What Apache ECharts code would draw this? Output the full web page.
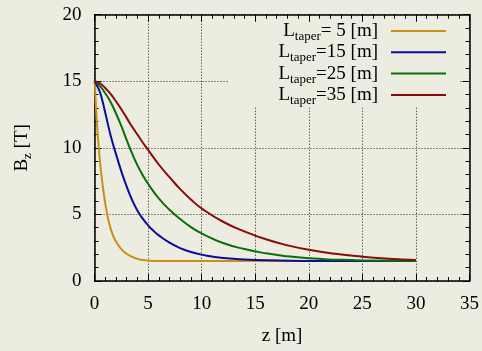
<!DOCTYPE html>
<html>
<head>
<meta charset="utf-8">
<script src="https://cdn.jsdelivr.net/npm/echarts@6/dist/echarts.min.js"></script>
<style>
html,body{margin:0;padding:0;background:#ecede0;}
#c{width:482px;height:351px;}
</style>
</head>
<body>
<div id="c"></div>
<script>
// ---- data ----
const seriesNames = ['L_taper= 5 [m]', 'L_taper=15 [m]', 'L_taper=25 [m]', 'L_taper=35 [m]'];
const legendLabels = ['= 5 [m]', '=15 [m]', '=25 [m]', '=35 [m]'];

const z5  = [0, 0.05, 0.1, 0.2, 0.3, 0.4, 0.5, 0.6, 0.8, 1.0, 1.25, 1.5, 1.75, 2.0, 2.5, 3.0, 3.5, 4.0, 4.5, 5.0, 6, 10, 20, 30];
const b5  = [15, 14.6, 13.7, 12.2, 11.0, 10.0, 9.1, 8.3, 6.95, 5.85, 4.75, 3.95, 3.38, 2.97, 2.4, 2.05, 1.82, 1.66, 1.57, 1.53, 1.5, 1.5, 1.5, 1.5];

const z15 = [0, 0.25, 0.5, 0.75, 1.0, 1.5, 2.0, 2.5, 3.0, 3.5, 4.0, 4.5, 5.0, 5.5, 6.0, 7.0, 8.0, 9.0, 10, 12, 15, 20, 30];
const b15 = [15, 14.65, 14.2, 13.5, 12.65, 10.95, 9.55, 8.25, 7.1, 6.1, 5.3, 4.68, 4.18, 3.77, 3.43, 2.88, 2.47, 2.18, 1.98, 1.73, 1.57, 1.51, 1.5];

const z25 = [0, 0.5, 1.0, 1.5, 2.0, 2.5, 3.0, 3.5, 4.0, 4.5, 5.0, 6.0, 7.0, 8.0, 9.0, 10, 12, 14, 16, 18, 20, 22.5, 25, 30];
const b25 = [15, 14.65, 14.1, 13.45, 12.6, 11.65, 10.6, 9.6, 8.7, 7.95, 7.3, 6.2, 5.35, 4.65, 4.05, 3.57, 2.85, 2.4, 2.08, 1.85, 1.7, 1.6, 1.54, 1.5];

const z35 = [0, 0.5, 1.0, 1.5, 2.0, 2.5, 3.0, 3.5, 4.0, 4.5, 5.0, 6.0, 7.0, 8.0, 9.0, 10, 12, 14, 16, 18, 20, 22.5, 25, 27.5, 30];
const b35 = [15, 14.85, 14.5, 14.05, 13.5, 12.9, 12.25, 11.6, 11.0, 10.4, 9.85, 8.75, 7.8, 6.9, 6.12, 5.45, 4.45, 3.72, 3.13, 2.68, 2.34, 2.04, 1.83, 1.67, 1.57];

const xTicks = [0, 5, 10, 15, 20, 25, 30, 35];
const yTicks = [0, 5, 10, 15, 20];
// ---------------------------------------

const colors = ['#c8901a', '#0c0c9c', '#0a6e0a', '#8b0a0a'];
const zs = [z5, z15, z25, z35];
const bs = [b5, b15, b25, b35];

const FONT = '"Liberation Serif", "Times New Roman", serif';
const BG = '#ecede0';

function pairs(z, b) { return z.map((v, i) => [v, b[i]]); }

const series = seriesNames.map((name, i) => ({
  name: name,
  type: 'line',
  data: pairs(zs[i], bs[i]),
  showSymbol: false,
  smooth: 0.5,
  lineStyle: { color: colors[i], width: 2 },
  itemStyle: { color: colors[i] },
  xAxisIndex: 0,
  yAxisIndex: 0,
  z: 3
}));

const axisCommon = {
  type: 'value',
  axisLine: { show: true, onZero: false, lineStyle: { color: '#000', width: 1.5 } },
  axisTick: { show: true, inside: true, length: 7, lineStyle: { color: '#000', width: 1 } },
  minorTick: { show: true, splitNumber: 5, length: 4, lineStyle: { color: '#000', width: 1 } },
  axisLabel: { color: '#000', fontFamily: FONT, fontSize: 19 }
};

const option = {
  backgroundColor: BG,
  animation: false,
  grid: { left: 94.5, right: 11, top: 14.7, bottom: 68.5, containLabel: false },
  xAxis: [
    Object.assign({}, axisCommon, {
      min: xTicks[0], max: xTicks[xTicks.length - 1], interval: 5, position: 'bottom',
      axisLabel: Object.assign({}, axisCommon.axisLabel, { margin: 14 }),
      splitLine: { show: true, lineStyle: { color: '#222', width: 1, type: [1, 2] } },
      name: 'z [m]', nameLocation: 'middle', nameGap: 46,
      nameTextStyle: { color: '#000', fontFamily: FONT, fontSize: 19 },
      z: 0
    }),
    Object.assign({}, axisCommon, {
      min: xTicks[0], max: xTicks[xTicks.length - 1], interval: 5, position: 'top',
      axisLabel: { show: false }, splitLine: { show: false }, z: 10
    })
  ],
  yAxis: [
    Object.assign({}, axisCommon, {
      min: yTicks[0], max: yTicks[yTicks.length - 1], interval: 5, position: 'left',
      axisLabel: Object.assign({}, axisCommon.axisLabel, { margin: 13 }),
      splitLine: { show: true, lineStyle: { color: '#222', width: 1, type: [1, 2] } },
      name: '{a|B}{b|z}{a| [T]}', nameLocation: 'middle', nameGap: 61, nameRotate: 90,
      nameTextStyle: {
        color: '#000', fontFamily: FONT, fontSize: 19,
        rich: {
          a: { fontFamily: FONT, fontSize: 19, lineHeight: 22, color: '#000' },
          b: { fontFamily: FONT, fontSize: 13, lineHeight: 22, padding: [11, 0, 0, 0], color: '#000' }
        }
      },
      z: 0
    }),
    Object.assign({}, axisCommon, {
      min: yTicks[0], max: yTicks[yTicks.length - 1], interval: 5, position: 'right',
      axisLabel: { show: false }, splitLine: { show: false }, z: 10
    })
  ],
  legend: {
    data: seriesNames.map(n => ({ name: n, icon: 'rect' })),
    orient: 'vertical',
    align: 'right',
    right: 22,
    top: 16,
    padding: [3, 14, 0, 50],
    itemGap: -2.7,
    itemWidth: 55,
    itemHeight: 2,
    backgroundColor: BG,
    selectedMode: false,
    formatter: function (name) {
      const i = seriesNames.indexOf(name);
      return '{a|L}{b|taper}{a|' + legendLabels[i] + '}';
    },
    textStyle: {
      color: '#000', fontFamily: FONT, fontSize: 19,
      padding: [0, 8, 0, 0],
      rich: {
        a: { fontFamily: FONT, fontSize: 19, lineHeight: 22, color: '#000' },
        b: { fontFamily: FONT, fontSize: 13, lineHeight: 22, padding: [11, 0, 0, 0], color: '#000' }
      }
    },
    z: 4
  },
  series: series
};

const chart = echarts.init(document.getElementById('c'), null, { renderer: 'canvas' });
chart.setOption(option);
</script>
</body>
</html>
